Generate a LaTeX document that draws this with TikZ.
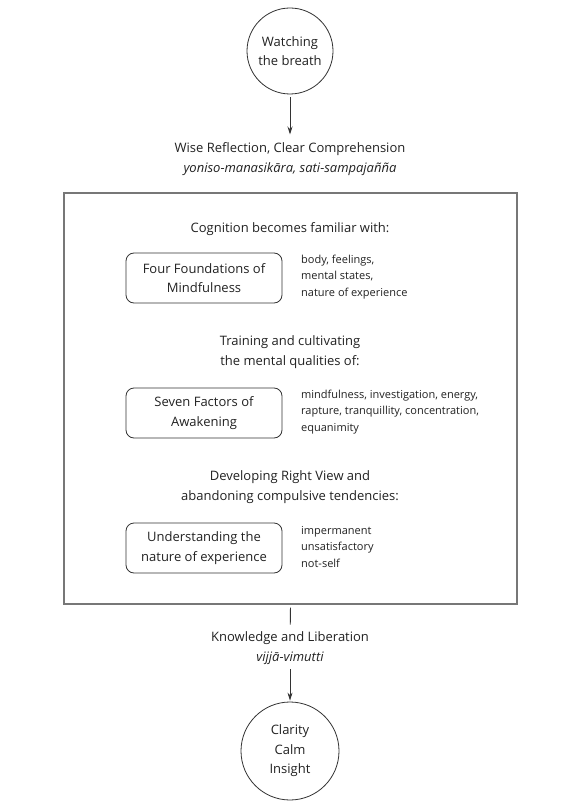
\documentclass[tikz,border=0pt]{standalone}
\usepackage{fontspec}
\setmainfont{Open Sans}
\usetikzlibrary{arrows.meta}
\definecolor{txt}{HTML}{222222}
\definecolor{frm}{HTML}{777777}
\definecolor{lin}{HTML}{333333}
\tikzset{
  main/.style={font=\fontsize{13}{19.5}\selectfont, text=txt, align=center, inner sep=0pt},
  side/.style={font=\fontsize{11}{16.5}\selectfont, text=txt, align=left, anchor=west, inner sep=0pt},
  bubble/.style={circle, draw=lin, line width=0.8pt, main},
  qbox/.style={draw=lin, line width=0.8pt, rounded corners=8pt, minimum width=156pt, minimum height=50pt, main},
  arr/.style={draw=lin, line width=0.9pt, -{Stealth[length=8pt,width=5pt]}},
  plain/.style={draw=lin, line width=0.9pt}
}
\begin{document}
\begin{tikzpicture}[x=1pt,y=-1pt]
\useasboundingbox[fill=white] (0,0) rectangle (581,810);
\node[bubble, minimum size=86pt] (top) at (290,51) {Watching\\the breath};
\node[main] (wise) at (290,159) {Wise Reflection, Clear Comprehension\\\itshape yoniso-manasikāra, sati-sampajañña};
\draw[arr, shorten <=3pt, shorten >=8pt] (top) -- (wise);
\node[draw=frm, line width=1.3pt, minimum width=453pt, minimum height=411pt, inner sep=0pt] (frame) at (290.5,398.5) {};
\node[main] (h1) at (290,229) {Cognition becomes familiar with:};
\node[qbox] (b1) at (204,278) {Four Foundations of\\Mindfulness};
\node[side] (s1) at (301,277) {body, feelings,\\mental states,\\nature of experience};
\node[main] (h2) at (290,352) {Training and cultivating\\the mental qualities of:};
\node[qbox] (b2) at (204,413) {Seven Factors of\\Awakening};
\node[side] (s2) at (301,412) {mindfulness, investigation, energy,\\rapture, tranquillity, concentration,\\equanimity};
\node[main] (h3) at (290,487) {Developing Right View and\\abandoning compulsive tendencies:};
\node[qbox] (b3) at (204,548) {Understanding the\\nature of experience};
\node[side] (s3) at (301,547) {impermanent\\unsatisfactory\\not-self};
\node[main] (know) at (290,648) {Knowledge and Liberation\\\itshape vijjā-vimutti};
\draw[plain, shorten <=3pt, shorten >=7pt] (frame.south) -- (know);
\node[bubble, minimum size=98pt] (bot) at (290,751) {Clarity\\Calm\\Insight};
\draw[arr, shorten <=5pt, shorten >=1pt] (know) -- (bot);
\end{tikzpicture}
\end{document}
